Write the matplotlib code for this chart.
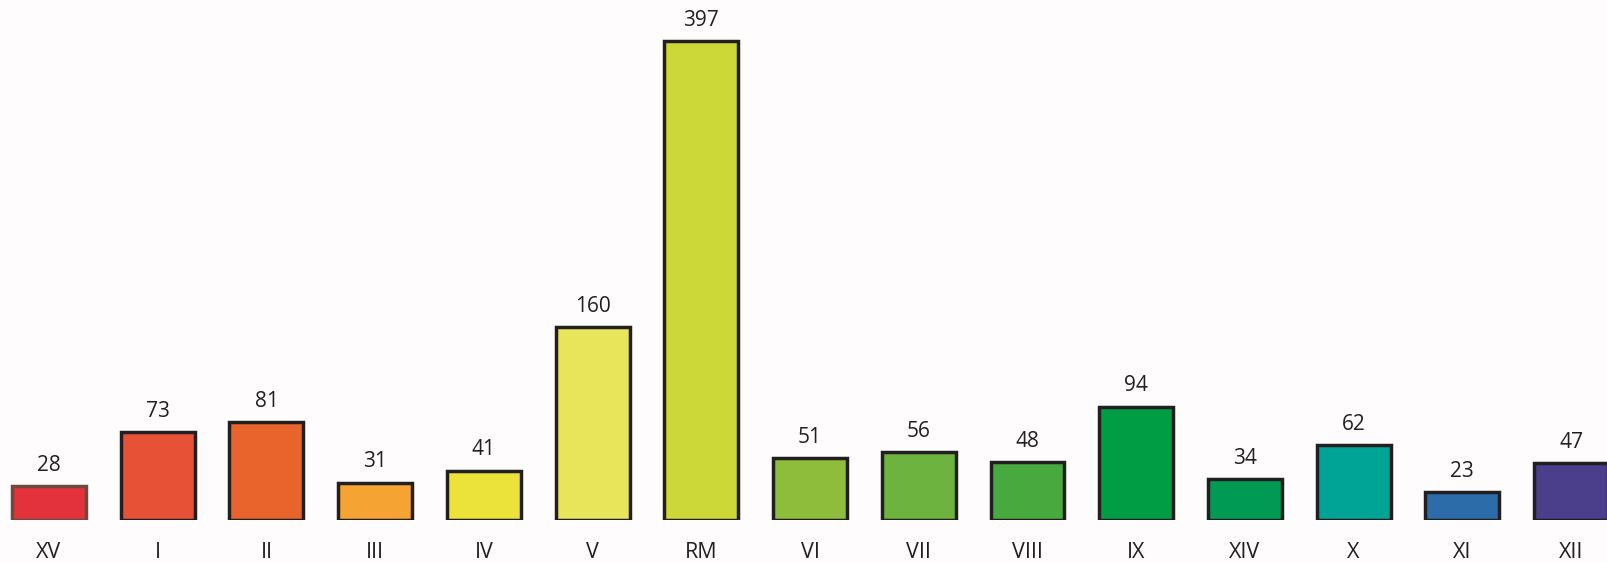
import matplotlib
matplotlib.use("Agg")
import matplotlib.pyplot as plt

categories = ["XV", "I", "II", "III", "IV", "V", "RM", "VI", "VII", "VIII", "IX", "XIV", "X", "XI", "XII"]
values = [28, 73, 81, 31, 41, 160, 397, 51, 56, 48, 94, 34, 62, 23, 47]
colors = ["#e4323c", "#e75237", "#e9632c", "#f5a332", "#ebe33a", "#e8e55a", "#cbd838",
          "#8dbd3a", "#6cb33f", "#48a93e", "#009d45", "#009a55", "#00a497", "#2c6ca8", "#4b3e8a"]
edgecolors = ["#6b4a40"] + ["#231f20"] * 14

fig = plt.figure(figsize=(16.08, 5.63), dpi=100, facecolor="#fefcfd")
ax = fig.add_axes([0, 0.0764, 1, 0.9236])
ax.set_facecolor("#fefcfd")

x = list(range(len(categories)))
ax.bar(x, values, width=0.68, color=colors, edgecolor=edgecolors, linewidth=2.5, zorder=2)

for xi, v in zip(x, values):
    ax.annotate(str(v), (xi, v), xytext=(0, 11), textcoords="offset points",
                ha="center", va="baseline", fontsize=15, family="Open Sans", color="#231f20")

ax.set_xlim(-0.451, 14.34)
ax.set_ylim(0, 431)
ax.set_xticks(x)
ax.set_xticklabels(categories, fontsize=15.5, family="Open Sans", color="#231f20")
ax.tick_params(axis="x", length=0, pad=16)
ax.set_yticks([])
for s in ax.spines.values():
    s.set_visible(False)

fig.savefig("out.png", dpi=100, facecolor=fig.get_facecolor())
